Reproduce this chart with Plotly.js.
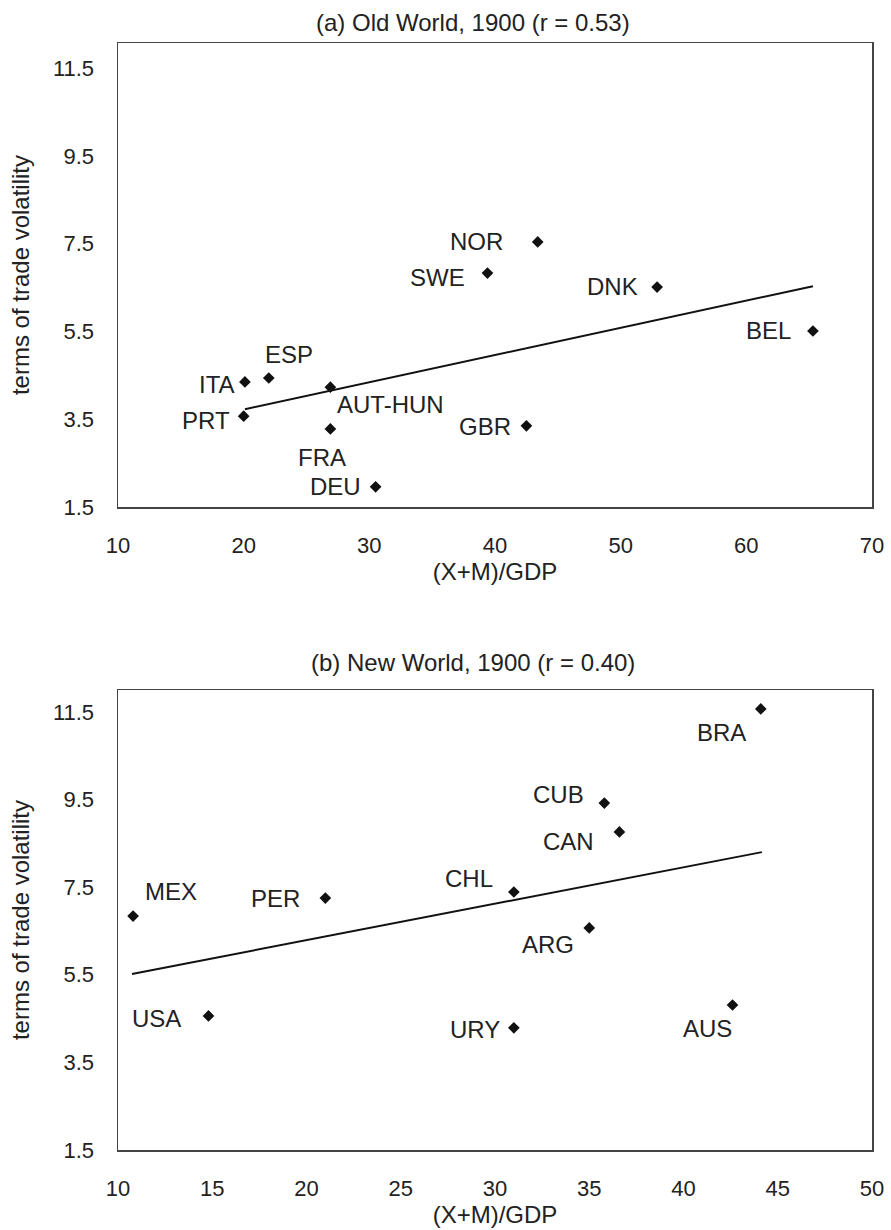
<!DOCTYPE html>
<html>
<head>
<meta charset="utf-8">
<script src="https://cdn.plot.ly/plotly-3.0.1.min.js"></script>
<style>html,body{margin:0;padding:0;background:#fff;}#chart{width:891px;height:1230px;}</style>
</head>
<body>
<div id="chart"></div>
<script>
// ---- Panel (a) Old World, 1900 ----
const countriesA = ['NOR','SWE','DNK','BEL','ITA','ESP','AUT-HUN','PRT','FRA','DEU','GBR'];
const opennessA  = [43.4, 39.4, 52.9, 65.3, 20.1, 22.0, 26.9, 20.0, 26.9, 30.5, 42.5];
const volA       = [7.54, 6.83, 6.51, 5.51, 4.35, 4.44, 4.23, 3.57, 3.28, 1.96, 3.35];
const trendAx    = [20.1, 65.3];
const trendAy    = [3.73, 6.53];

// ---- Panel (b) New World, 1900 ----
const countriesB = ['BRA','CUB','CAN','CHL','PER','MEX','ARG','USA','URY','AUS'];
const opennessB  = [44.1, 35.8, 36.6, 31.0, 21.0, 10.8, 35.0, 14.8, 31.0, 42.6];
const volB       = [11.57, 9.42, 8.76, 7.39, 7.25, 6.84, 6.57, 4.56, 4.29, 4.81];
const trendBx    = [10.74, 44.16];
const trendBy    = [5.52, 8.30];

const titleA = '(a) Old World, 1900 (r = 0.53)';
const titleB = '(b) New World, 1900 (r = 0.40)';
const xTitle = '(X+M)/GDP';
const yTitle = 'terms of trade volatility';

// label placement (anchor, xshift px, yshift px)
const labelPosA = {
  'NOR':['right',-33,0], 'SWE':['right',-20,-4], 'DNK':['right',-17,1], 'BEL':['right',-20,1],
  'ITA':['right',-8,-3], 'ESP':['left',-6,23], 'AUT-HUN':['left',5,-17], 'PRT':['right',-12,-4],
  'FRA':['center',-8,-29], 'DEU':['right',-13,0], 'GBR':['right',-13,-1]
};
const labelPosB = {
  'BRA':['right',-13,-24], 'CUB':['right',-18,9], 'CAN':['right',-23,-10], 'CHL':['right',-19,13],
  'PER':['right',-23,0], 'MEX':['left',10,25], 'ARG':['right',-13,-17], 'USA':['right',-25,-3],
  'URY':['right',-12,-2], 'AUS':['right',1,-23]
};

const FONT = '"Liberation Sans", Arial, Helvetica, sans-serif';
const TXT = '#222';

const traces = [
  {x: opennessA, y: volA, xaxis:'x', yaxis:'y', mode:'markers', type:'scatter',
   marker:{symbol:'diamond', size:9, color:'#111'}, hoverinfo:'text', text:countriesA},
  {x: trendAx, y: trendAy, xaxis:'x', yaxis:'y', mode:'lines', type:'scatter',
   line:{color:'#111', width:2}},
  {x: opennessB, y: volB, xaxis:'x2', yaxis:'y2', mode:'markers', type:'scatter',
   marker:{symbol:'diamond', size:9, color:'#111'}, hoverinfo:'text', text:countriesB},
  {x: trendBx, y: trendBy, xaxis:'x2', yaxis:'y2', mode:'lines', type:'scatter',
   line:{color:'#111', width:2}}
];

const annotations = [];
function addLabels(names, xs, ys, pos, xr, yr){
  names.forEach((n,i)=>{
    const p = pos[n];
    annotations.push({x:xs[i], y:ys[i], xref:xr, yref:yr, text:n, showarrow:false,
      xanchor:p[0], yanchor:'middle', xshift:p[1], yshift:p[2],
      font:{family:FONT, size:24, color:TXT}});
  });
}
addLabels(countriesA, opennessA, volA, labelPosA, 'x', 'y');
addLabels(countriesB, opennessB, volB, labelPosB, 'x2', 'y2');

annotations.push({text:titleA, xref:'paper', yref:'paper', x:0.471, y:1, yshift:21,
  xanchor:'center', yanchor:'middle', showarrow:false, font:{family:FONT, size:24, color:TXT}});
annotations.push({text:titleB, xref:'paper', yref:'paper', x:0.471, y:0.4155, yshift:28,
  xanchor:'center', yanchor:'middle', showarrow:false, font:{family:FONT, size:24, color:TXT}});

function xax(range, dtick, anchor){
  return {range:range, dtick:dtick, tick0:10, anchor:anchor, showgrid:false, zeroline:false,
    showline:true, mirror:true, linecolor:'#444', linewidth:1.5, ticks:'',
    ticklabelstandoff:18, tickfont:{family:FONT, size:22, color:TXT},
    title:{text:xTitle, standoff:0, font:{family:FONT, size:24, color:TXT}}};
}
function yax(range, domain, anchor){
  return {range:range, domain:domain, dtick:2, tick0:1.5, anchor:anchor, showgrid:false,
    zeroline:false, showline:true, mirror:true, linecolor:'#444', linewidth:1.5, ticks:'',
    ticklabelstandoff:18, tickformat:'.1f', tickfont:{family:FONT, size:22, color:TXT},
    title:{text:yTitle, standoff:16, font:{family:FONT, size:24, color:TXT}}};
}

const layout = {
  width:891, height:1230, margin:{l:118, r:19, t:43, b:80},
  paper_bgcolor:'#fff', plot_bgcolor:'#fff', showlegend:false,
  xaxis: xax([10,70], 10, 'y'),
  yaxis: yax([1.5,12.07], [0.5808,1], 'x'),
  xaxis2: xax([10,50], 5, 'y2'),
  yaxis2: yax([1.5,12.0], [0,0.4155], 'x2'),
  annotations: annotations,
  font:{family:FONT, color:TXT}
};

Plotly.newPlot('chart', traces, layout, {displayModeBar:false, staticPlot:true});
</script>
</body>
</html>
